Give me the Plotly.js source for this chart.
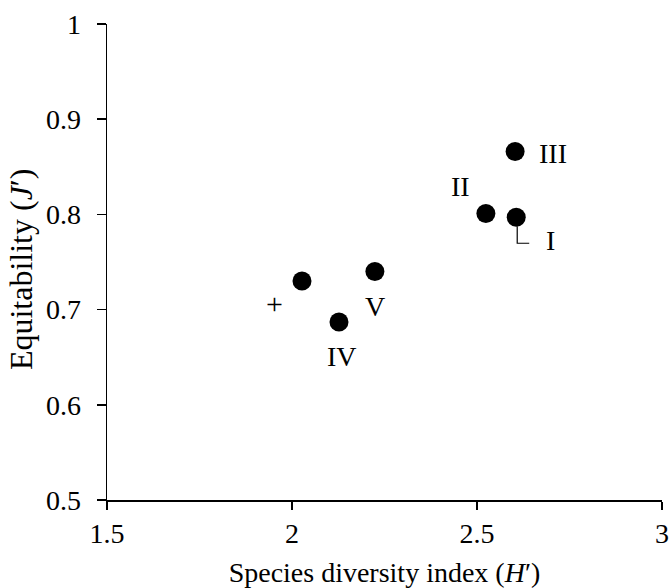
<!DOCTYPE html>
<html>
<head>
<meta charset="utf-8">
<script src="https://cdn.plot.ly/plotly-3.0.1.min.js"></script>
<style>html,body{margin:0;padding:0;background:#fff;}#chart{width:671px;height:588px;}</style>
</head>
<body>
<div id="chart"></div>
<script>
// Data
const siteLabels = ["I", "II", "III", "IV", "V", "+"];
const diversityH = [2.606, 2.524, 2.603, 2.127, 2.224, 2.027];
const equitabilityJ = [0.797, 0.801, 0.866, 0.687, 0.740, 0.730];
const xTickVals = [1.5, 2, 2.5, 3];
const xTickText = ["1.5", "2", "2.5", "3"];
const yTickVals = [0.5, 0.6, 0.7, 0.8, 0.9, 1];
const yTickText = ["0.5", "0.6", "0.7", "0.8", "0.9", "1"];

const FONT = "Liberation Serif, Times New Roman, serif";

// label offsets in pixels relative to each point [dx, dy] (dy downwards)
const labelOffsets = [[34, 23], [-25, -27], [38, 2], [3, 35], [0, 35], [-27, 22]];
const labelSizes = [28, 28, 28, 28, 28, 30];

const annotations = siteLabels.map((t, i) => ({
  x: diversityH[i], y: equitabilityJ[i], xref: 'x', yref: 'y',
  text: t, showarrow: false, xanchor: 'center', yanchor: 'middle',
  xshift: labelOffsets[i][0], yshift: -labelOffsets[i][1],
  font: {family: FONT, size: labelSizes[i], color: '#000'}
}));

// y axis title as a rotated annotation (placed slightly below plot centre as in reference)
annotations.push({
  xref: 'paper', yref: 'paper', x: -0.155, y: 0.485,
  text: 'Equitability (<i>J</i>′)', textangle: -90, showarrow: false,
  xanchor: 'center', yanchor: 'middle',
  font: {family: FONT, size: 32, color: '#000'}
});

const trace = {
  x: diversityH, y: equitabilityJ, mode: 'markers', type: 'scatter',
  marker: {size: 19, color: '#000'}, hoverinfo: 'skip'
};

const leader = {
  type: 'path', xref: 'x', yref: 'y', layer: 'above',
  path: '', line: {color: '#000', width: 1.2}
};

const layout = {
  width: 671, height: 588,
  margin: {l: 107, r: 9, t: 24, b: 88},
  paper_bgcolor: '#fff', plot_bgcolor: '#fff',
  showlegend: false,
  font: {family: FONT, size: 28, color: '#000'},
  xaxis: {
    range: [1.5, 3], tickvals: xTickVals, ticktext: xTickText,
    showgrid: false, zeroline: false, showline: true, linecolor: '#000', linewidth: 1.5,
    ticks: 'outside', ticklen: 8, tickwidth: 1.5, tickcolor: '#000',
    tickfont: {family: FONT, size: 28, color: '#000'},
    title: {text: 'Species diversity index (<i>H</i>′)', font: {family: FONT, size: 28, color: '#000'}, standoff: 14}
  },
  yaxis: {
    range: [0.5, 1], tickvals: yTickVals, ticktext: yTickText,
    showgrid: false, zeroline: false, showline: true, linecolor: '#000', linewidth: 1.5,
    ticks: 'outside', ticklen: 9, tickwidth: 1.5, tickcolor: '#000',
    ticklabelstandoff: 10,
    tickfont: {family: FONT, size: 28, color: '#000'}
  },
  annotations: annotations
};

Plotly.newPlot('chart', [trace], layout, {displayModeBar: false, staticPlot: true}).then(gd => {
  const xa = gd._fullLayout.xaxis, ya = gd._fullLayout.yaxis;
  const px = xa.l2p(diversityH[0]) + 1, py = ya.l2p(equitabilityJ[0]);
  const x0 = xa.p2l(px), y0 = ya.p2l(py + 9), y1 = ya.p2l(py + 26), x1 = xa.p2l(px + 12);
  leader.path = `M ${x0} ${y0} L ${x0} ${y1} L ${x1} ${y1}`;
  Plotly.relayout(gd, {shapes: [leader]});
});
</script>
</body>
</html>
